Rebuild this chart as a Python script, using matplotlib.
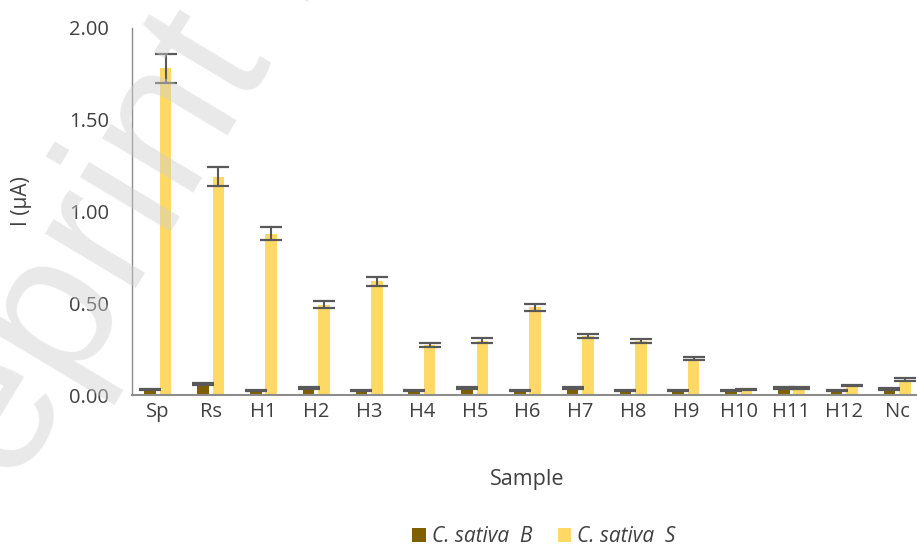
import numpy as np
import matplotlib
matplotlib.use("Agg")
import matplotlib.pyplot as plt
from matplotlib.patches import Patch

plt.rcParams['font.family'] = ['Open Sans', 'DejaVu Sans']

# Samples and measured currents (µA)
samples = ["Sp", "Rs", "H1", "H2", "H3", "H4", "H5", "H6", "H7",
           "H8", "H9", "H10", "H11", "H12", "Nc"]
sativa_b = [0.032, 0.062, 0.025, 0.040, 0.025, 0.025, 0.040, 0.025,
            0.040, 0.025, 0.025, 0.025, 0.040, 0.025, 0.033]
sativa_b_err = [0.004, 0.004, 0.004, 0.004, 0.004, 0.004, 0.004, 0.004,
                0.004, 0.004, 0.004, 0.004, 0.005, 0.004, 0.005]
sativa_s = [1.78, 1.19, 0.881, 0.494, 0.620, 0.275, 0.298, 0.480,
            0.322, 0.294, 0.199, 0.032, 0.040, 0.053, 0.085]
sativa_s_err = [0.081, 0.053, 0.037, 0.021, 0.026, 0.010, 0.014, 0.019,
                0.012, 0.011, 0.007, 0.004, 0.005, 0.004, 0.009]
y_ticks = [0.0, 0.5, 1.0, 1.5, 2.0]

series_names = ["C. sativa  B", "C. sativa  S"]
color_b = "#7F6000"
color_s = "#FFD966"
err_color = "#595959"
text_color = "#404040"
axis_color = "#8C8C8C"

W, H = 917, 547
fig = plt.figure(figsize=(W / 100, H / 100), dpi=100)
ax = fig.add_axes([131.5 / W, 1 - 395.3 / H, 792 / W, (395.3 - 28) / H])

x = np.arange(len(samples))
bw = 0.22
off = 0.147
err_kw = dict(ecolor=err_color, elinewidth=1.5, capsize=7.8, capthick=1.6)
ax.bar(x - off, sativa_b, bw, color=color_b, yerr=sativa_b_err,
       error_kw=err_kw, zorder=2)
ax.bar(x + off, sativa_s, bw, color=color_s, yerr=sativa_s_err,
       error_kw=err_kw, zorder=2)

ax.set_xlim(-0.5, len(samples) - 0.5)
ax.set_ylim(0, 2.0)
ax.set_yticks(y_ticks)
ax.set_yticklabels([f"{v:.2f}" for v in y_ticks])
ax.set_xticks(x)
ax.set_xticklabels(samples)
ax.tick_params(axis='y', length=0, pad=16, labelsize=14.5, labelcolor=text_color)
ax.tick_params(axis='x', length=0, pad=5, labelsize=14.5, labelcolor=text_color)

for side in ("top", "right"):
    ax.spines[side].set_visible(False)
ax.spines["left"].set_color(axis_color)
ax.spines["left"].set_linewidth(1.0)
ax.spines["bottom"].set_color(axis_color)
ax.spines["bottom"].set_linewidth(1.5)
ax.spines["bottom"].set_zorder(3)

fig.text(527 / W, 1 - 480 / H, "Sample", ha="center", va="center",
         fontsize=15.5, color=text_color)
fig.text(22 / W, 1 - 201 / H, "I (µA)", ha="center", va="center",
         rotation=90, fontsize=15, color=text_color)

handles = [Patch(facecolor=color_b, label=series_names[0]),
           Patch(facecolor=color_s, label=series_names[1])]
leg = fig.legend(handles=handles, loc="center", ncol=2,
                 bbox_to_anchor=(544 / W, 1 - 537 / H), frameon=False,
                 handlelength=0.65, handleheight=0.65, handletextpad=0.3,
                 columnspacing=1.2, borderpad=0,
                 prop=dict(style="italic", size=15))
for t in leg.get_texts():
    t.set_color(text_color)

# diagonal watermark overlay
fig.text(-88.4 / W, 1 - 661.8 / H, "Preprint not peer reviewed",
         rotation=59, rotation_mode="anchor", ha="left", va="baseline",
         fontsize=144, color="#cfcfcf", alpha=0.45, zorder=10,
         family="Liberation Sans")

fig.savefig("out.png", dpi=100)
